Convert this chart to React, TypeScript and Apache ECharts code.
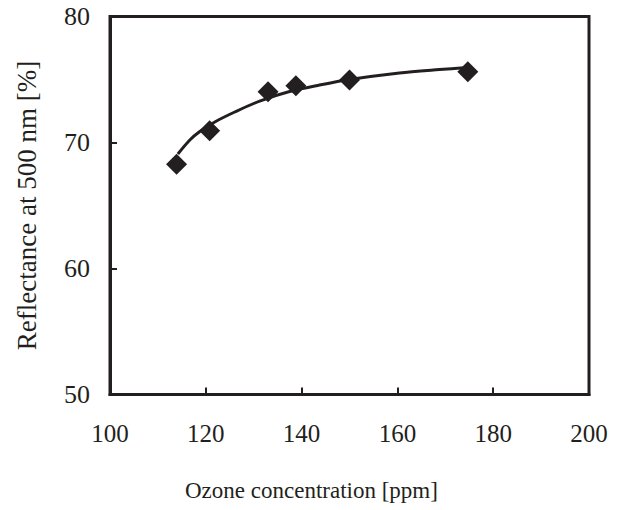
import React, { useEffect, useRef } from "react";
import * as echarts from "echarts";

// Measured points
const ozone = [113.9, 120.8, 133.0, 138.8, 150.0, 174.7];
const reflectance = [68.27, 70.94, 74.03, 74.5, 74.96, 75.62];

// Trend curve
const trendX = [114.17, 116.67, 118.75, 121.88, 126.04, 131.25, 137.5, 143.75, 150.0, 160.42, 168.75, 174.58];
const trendY = [69.09, 70.2, 70.87, 71.63, 72.42, 73.29, 74.05, 74.56, 75.0, 75.52, 75.79, 75.95];

const xTicks = { min: 100, max: 200, interval: 20 };
const yTicks = { min: 50, max: 80, interval: 10 };

const xTitle = "Ozone concentration [ppm]";
const yTitle = "Reflectance at 500 nm [%]";

const INK = "#231f20";
const FONT = "'Liberation Serif', 'Times New Roman', serif";

export default function App() {
  const ref = useRef<HTMLDivElement>(null);
  useEffect(() => {
    if (!ref.current) return;
    const chart = echarts.init(ref.current, null, { renderer: "svg" });
    chart.setOption({
      animation: false,
      backgroundColor: "#ffffff",
      grid: {
        left: 110,
        right: 35,
        top: 16.5,
        bottom: 115.5,
        containLabel: false,
        outerBoundsMode: "none",
        show: true,
        borderColor: INK,
        borderWidth: 3,
        backgroundColor: "transparent",
      },
      graphic: [
        {
          type: "text",
          left: 185,
          top: 479,
          style: { text: xTitle, fontFamily: FONT, fontSize: 23, fill: INK },
        },
      ],
      xAxis: {
        type: "value",
        min: xTicks.min,
        max: xTicks.max,
        interval: xTicks.interval,
        axisLine: { show: true, lineStyle: { color: INK, width: 3 } },
        axisTick: { show: true, inside: true, length: 7, lineStyle: { color: INK, width: 2 } },
        axisLabel: { fontFamily: FONT, fontSize: 25, color: INK, margin: 26 },
        splitLine: { show: false },
      },
      yAxis: {
        type: "value",
        min: yTicks.min,
        max: yTicks.max,
        interval: yTicks.interval,
        name: yTitle,
        nameLocation: "middle",
        nameGap: 70,
        nameRotate: 90,
        nameTextStyle: { fontFamily: FONT, fontSize: 27, color: INK },
        axisLine: { show: true, lineStyle: { color: INK, width: 3 } },
        axisTick: { show: true, inside: true, length: 7, lineStyle: { color: INK, width: 2 } },
        axisLabel: { fontFamily: FONT, fontSize: 26, color: INK, margin: 20 },
        splitLine: { show: false },
      },
      series: [
        {
          type: "line",
          data: trendX.map((x, i) => [x, trendY[i]]),
          smooth: 0.3,
          showSymbol: false,
          symbol: "none",
          lineStyle: { color: INK, width: 3 },
          z: 2,
        },
        {
          type: "scatter",
          data: ozone.map((x, i) => [x, reflectance[i]]),
          symbol: "diamond",
          symbolSize: 21,
          itemStyle: { color: INK, opacity: 1 },
          z: 3,
        },
      ],
    });
    return () => chart.dispose();
  }, []);
  return (
    <div
      ref={ref}
      style={{ position: "fixed", left: 0, top: 0, width: 624, height: 510, background: "#fff" }}
    />
  );
}
